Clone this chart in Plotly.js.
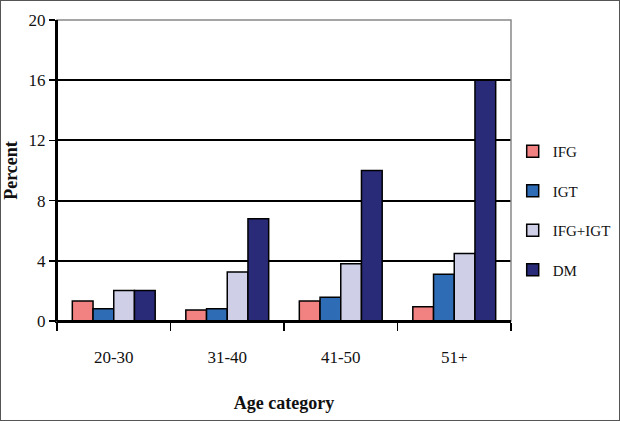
<!DOCTYPE html>
<html>
<head>
<meta charset="utf-8">
<script src="https://cdn.plot.ly/plotly-3.0.1.min.js"></script>
<style>
  body { margin: 0; background: #fff; }
  #plot { width: 618px; height: 419px; border: 1px solid #555; }
</style>
</head>
<body>
<div id="plot"></div>
<script>
// age groups and percent values
var ageGroups = ["20-30", "31-40", "41-50", "51+"];
var ifg = [1.33, 0.73, 1.33, 0.95];
var igt = [0.82, 0.82, 1.57, 3.1];
var ifgIgt = [2.03, 3.25, 3.8, 4.48];
var dm = [2.03, 6.8, 10.0, 16.0];

var yTicks = [0, 4, 8, 12, 16, 20];

function bar(name, vals, color) {
  return {
    x: ageGroups,
    y: vals,
    type: "bar",
    name: name,
    legendgroup: name,
    marker: { color: color, line: { color: "#000", width: 1.5 } }
  };
}

var data = [
  bar("IFG", ifg, "#f28282"),
  bar("IGT", igt, "#2f6cb6"),
  bar("IFG+IGT", ifgIgt, "#cfcfe8"),
  bar("DM", dm, "#292a78")
];

var layout = {
  margin: { l: 56, r: 108, t: 19, b: 99 },
  paper_bgcolor: "#fff",
  plot_bgcolor: "#fff",
  font: { family: "'Liberation Serif', serif", size: 17, color: "#111" },
  barmode: "group",
  bargap: 0.27,
  bargroupgap: 0,
  xaxis: {
    type: "category",
    range: [-0.5, 3.5],
    showline: true,
    linecolor: "#000",
    linewidth: 2,
    ticks: "outside",
    tickson: "boundaries",
    ticklen: 8,
    tickwidth: 1.5,
    tickcolor: "#000",
    ticklabelstandoff: 20,
    showgrid: false,
    title: { text: "<b>Age category</b>", font: { size: 18 }, standoff: 30 }
  },
  yaxis: {
    range: [0, 20],
    tickvals: yTicks,
    showline: true,
    linecolor: "#000",
    linewidth: 2,
    ticks: "outside",
    ticklen: 6,
    tickwidth: 1.5,
    tickcolor: "#000",
    showgrid: true,
    gridcolor: "#000",
    gridwidth: 2,
    zeroline: false,
    title: { text: "<b>Percent</b>", font: { size: 18 }, standoff: 10 }
  },
  legend: {
    xref: "container",
    yref: "container",
    x: 0.828,
    xanchor: "left",
    y: 0.5,
    yanchor: "middle",
    bgcolor: "rgba(0,0,0,0)",
    font: { size: 15 },
    tracegroupgap: 17,
    itemwidth: 30
  },
  shapes: [
    { type: "rect", xref: "paper", yref: "paper", x0: 0, x1: 1, y0: 0, y1: 1,
      line: { color: "#888", width: 1.5 }, layer: "above" },
    { type: "line", xref: "paper", yref: "paper", x0: 0, x1: 0, y0: 0, y1: 1,
      line: { color: "#000", width: 2 }, layer: "above" },
    { type: "line", xref: "paper", yref: "paper", x0: 0, x1: 1, y0: 0, y1: 0,
      line: { color: "#000", width: 2 }, layer: "above" }
  ]
};

Plotly.newPlot("plot", data, layout, { displayModeBar: false, staticPlot: true });
</script>
</body>
</html>
